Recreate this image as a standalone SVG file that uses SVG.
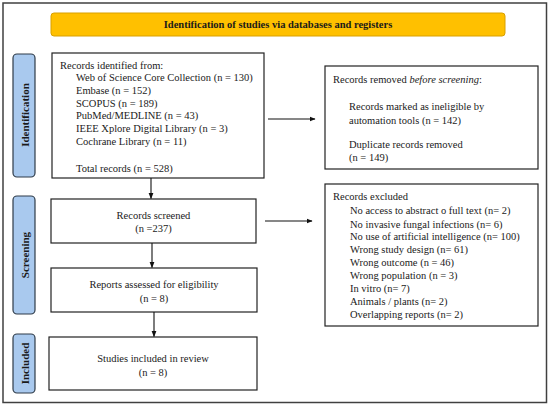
<svg xmlns="http://www.w3.org/2000/svg" width="550" height="406" viewBox="0 0 550 406">
<defs>
<style>
.frame{fill:#fff;stroke:#404040;stroke-width:1.5}
.box{fill:#fff;stroke:#222;stroke-width:1.2}
.side{fill:#a9c9ee;stroke:#2f3b48;stroke-width:1.2}
.hdr{fill:#ffc000;stroke:#d9a000;stroke-width:1}
text{font-family:"Liberation Serif","Times New Roman",serif;font-size:10.5px;fill:#1a1a1a}
.b{font-weight:bold}
.s{font-size:11px}
.c{text-anchor:middle}
.conn{stroke:#111;stroke-width:1.1;fill:none}
</style>
<marker id="ah" viewBox="0 0 10 10" refX="9" refY="5" markerWidth="6" markerHeight="6" orient="auto" markerUnits="userSpaceOnUse">
<path d="M0,1 L10,5 L0,9 z" fill="#111"/>
</marker>
</defs>
<rect width="550" height="406" fill="#fff"/>
<rect class="frame" x="3" y="3" width="543.5" height="399.5"/>
<g id="header">
<rect class="hdr" x="51" y="13" width="454" height="23" rx="3"/>
<text class="b c" x="278" y="28">Identification of studies via databases and registers</text>
</g>
<g id="side-identification">
<rect class="side" x="13" y="54" width="22" height="123" rx="4"/>
<text class="b c s" transform="translate(28.5,115) rotate(-90)">Identification</text>
</g>
<g id="side-screening">
<rect class="side" x="13" y="196" width="22" height="118" rx="4"/>
<text class="b c s" transform="translate(28.5,255) rotate(-90)">Screening</text>
</g>
<g id="side-included">
<rect class="side" x="13" y="334" width="22" height="59" rx="4"/>
<text class="b c s" transform="translate(28.5,363.5) rotate(-90)">Included</text>
</g>
<g id="records-identified">
<rect class="box" x="52" y="53" width="212" height="125"/>
<text x="60" y="68.5">Records identified from:</text>
<text x="76" y="81.2">Web of Science Core Collection (n = 130)</text>
<text x="76" y="94">Embase (n = 152)</text>
<text x="76" y="106.7">SCOPUS (n = 189)</text>
<text x="76" y="119.4">PubMed/MEDLINE (n = 43)</text>
<text x="76" y="132.1">IEEE Xplore Digital Library (n = 3)</text>
<text x="76" y="144.8">Cochrane Library (n = 11)</text>
<text x="76" y="171.5">Total records (n = 528)</text>
</g>
<g id="records-removed">
<rect class="box" x="325" y="66" width="213" height="103"/>
<text x="333" y="83">Records removed <tspan font-style="italic">before screening</tspan>:</text>
<text x="349" y="110.2">Records marked as ineligible by</text>
<text x="349" y="124.2">automation tools (n = 142)</text>
<text x="349" y="147.8">Duplicate records removed</text>
<text x="349" y="161.2">(n = 149)</text>
</g>
<g id="records-screened">
<rect class="box" x="51" y="199" width="205" height="44"/>
<text class="c" x="153.5" y="218.5">Records screened</text>
<text class="c" x="153.5" y="231.8">(n =237)</text>
</g>
<g id="records-excluded">
<rect class="box" x="325" y="184" width="213" height="142"/>
<text x="333" y="200.2">Records excluded</text>
<text x="350" y="214.2">No access to abstract o full text (n= 2)</text>
<text x="350" y="227.5">No invasive fungal infections (n= 6)</text>
<text x="350" y="240.2">No use of artificial intelligence (n= 100)</text>
<text x="350" y="252.8">Wrong study design (n= 61)</text>
<text x="350" y="265.8">Wrong outcome (n = 46)</text>
<text x="350" y="278.5">Wrong population (n = 3)</text>
<text x="350" y="291.8">In vitro (n= 7)</text>
<text x="350" y="304.5">Animals / plants (n= 2)</text>
<text x="350" y="317.5">Overlapping reports (n= 2)</text>
</g>
<g id="reports-assessed">
<rect class="box" x="51" y="268" width="206" height="44"/>
<text class="c" x="154" y="287.8">Reports assessed for eligibility</text>
<text class="c" x="154" y="301.8">(n = 8)</text>
</g>
<g id="studies-included">
<rect class="box" x="49" y="337" width="208" height="53"/>
<text class="c" x="153" y="361.8">Studies included in review</text>
<text class="c" x="153" y="375.8">(n = 8)</text>
</g>
<g id="connectors">
<line class="conn" x1="151" y1="178" x2="151" y2="198.5" marker-end="url(#ah)"/>
<line class="conn" x1="152" y1="243" x2="152" y2="267.5" marker-end="url(#ah)"/>
<line class="conn" x1="154" y1="312" x2="154" y2="336.5" marker-end="url(#ah)"/>
<line class="conn" x1="268" y1="119" x2="315" y2="119" marker-end="url(#ah)"/>
<line class="conn" x1="265" y1="221" x2="312" y2="221" marker-end="url(#ah)"/>
</g>
</svg>
